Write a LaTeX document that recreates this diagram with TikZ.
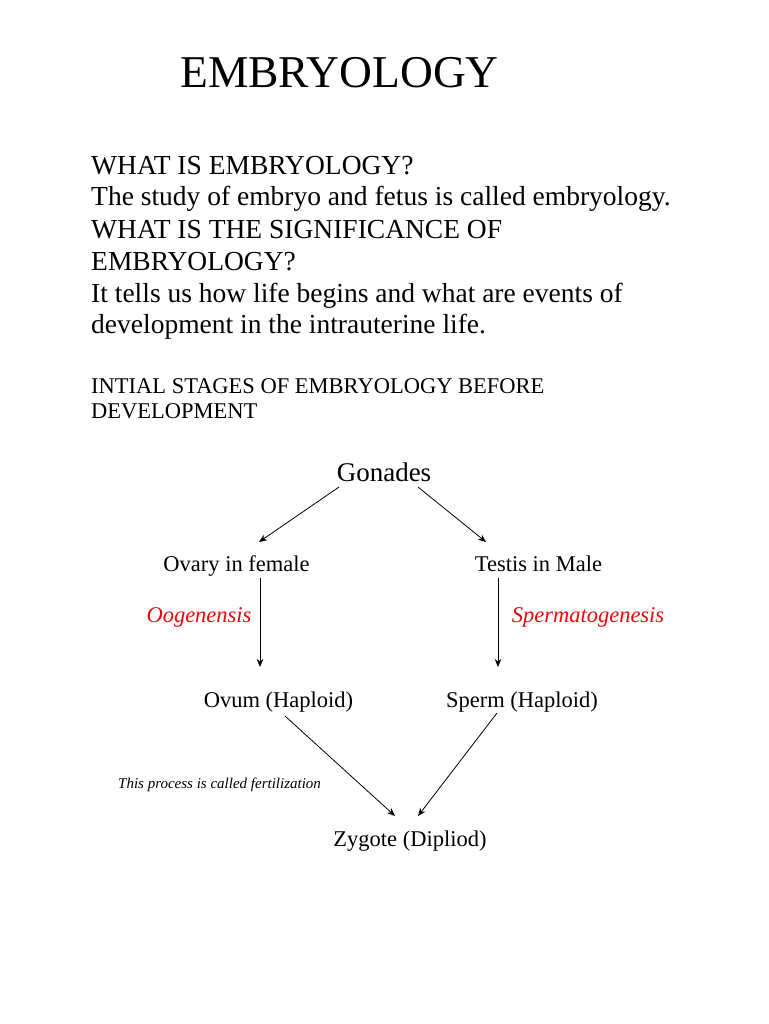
\documentclass[tikz,border=0pt]{standalone}
\usepackage{fontspec}
\setmainfont{Liberation Serif}
\usetikzlibrary{arrows.meta,calc}
\definecolor{lblred}{RGB}{230,10,10}
\begin{document}
\begin{tikzpicture}[x=1pt,y=-1pt,
  txt/.style={inner sep=0pt,anchor=base west},
  body/.style={txt,font=\fontsize{27.5}{31}\selectfont},
  lbl/.style={inner sep=0pt,anchor=base,font=\fontsize{22.5}{26}\selectfont},
  proc/.style={inner sep=0pt,anchor=base,font=\fontsize{22.5}{26}\selectfont\itshape,text=lblred},
  arr/.style={-{Stealth[length=8pt,width=6.5pt]},line width=0.8pt}]
\useasboundingbox[fill=white] (0,0) rectangle (768,1024);
% title and text
\node[txt,font=\fontsize{45.5}{50}\selectfont] (title) at (180,88) {EMBRYOLOGY};
\node[body] (l1) at (91,175) {WHAT IS EMBRYOLOGY?};
\node[body] (l2) at (91,206) {The study of embryo and fetus is called embryology.};
\node[body] (l3) at (91,238) {WHAT IS THE SIGNIFICANCE OF};
\node[body] (l4) at (91,270) {EMBRYOLOGY?};
\node[body] (l5) at (91,302) {It tells us how life begins and what are events of};
\node[body] (l6) at (91,333) {development in the intrauterine life.};
\node[txt,font=\fontsize{22.5}{26}\selectfont] (h1) at (91,393) {INTIAL STAGES OF EMBRYOLOGY BEFORE};
\node[txt,font=\fontsize{22.5}{26}\selectfont] (h2) at (91,418) {DEVELOPMENT};
% diagram
\node[lbl,font=\fontsize{27}{31}\selectfont] (gon) at (384,481) {Gonades};
\node[lbl] (ova) at (236.5,571) {Ovary in female};
\node[lbl] (tes) at (538.5,571) {Testis in Male};
\node[proc] (oog) at (199,622) {Oogenensis};
\node[proc] (spg) at (588,622) {Spermatogenesis};
\node[lbl] (ovu) at (278.5,707) {Ovum (Haploid)};
\node[lbl] (spe) at (522,707) {Sperm (Haploid)};
\node[inner sep=0pt,anchor=base west,font=\fontsize{15}{17}\selectfont\itshape] (fer) at (118,788) {This process is called fertilization};
\node[lbl] (zyg) at (410,846) {Zygote (Dipliod)};
% connectors
\draw[arr] ($(gon.base)+(-45,6)$) -- ($(ova.base)+(22.5,-29)$);
\draw[arr] ($(gon.base)+(34,6)$) -- ($(tes.base)+(-52.5,-29)$);
\draw[arr] ($(ova.base)+(23.5,7)$) -- ($(ovu.base)+(-18.5,-40)$);
\draw[arr] ($(tes.base)+(-40.5,7)$) -- ($(spe.base)+(-24,-40)$);
\draw[arr] ($(ovu.base)+(6.5,9)$) -- ($(zyg.base)+(-15,-30)$);
\draw[arr] ($(spe.base)+(-25,6)$) -- ($(zyg.base)+(8,-30)$);
\end{tikzpicture}
\end{document}
